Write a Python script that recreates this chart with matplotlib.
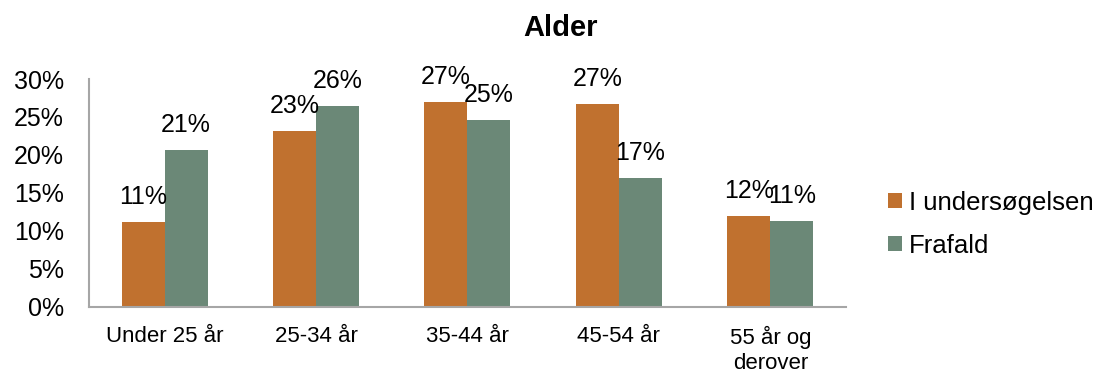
import matplotlib.pyplot as plt
import numpy as np

plt.rcParams['font.family'] = ['Liberation Sans', 'DejaVu Sans']

categories = ['Under 25 år', '25-34 år', '35-44 år', '45-54 år', '55 år og\nderover']
undersoegelsen = [11.2, 23.2, 27.0, 26.7, 12.0]
frafald = [20.7, 26.4, 24.6, 17.0, 11.3]
series_names = ['I undersøgelsen', 'Frafald']
colors = ['#C0712F', '#6B8877']

fig = plt.figure(figsize=(11.01, 3.78), dpi=100)
ax = fig.add_axes([0.0808, 0.1886, 0.6876, 0.6024])

x = np.arange(len(categories))
w = 0.284
b1 = ax.bar(x - w/2, undersoegelsen, w, color=colors[0], label=series_names[0])
b2 = ax.bar(x + w/2, frafald, w, color=colors[1], label=series_names[1])

for bars, vals in [(b1, undersoegelsen), (b2, frafald)]:
    for r, v in zip(bars, vals):
        ax.annotate('%d%%' % round(v), (r.get_x() + r.get_width()/2, v),
                    xytext=(0, 13), textcoords='offset points',
                    ha='center', va='baseline', fontsize=18)

ax.set_xlim(-0.5, len(categories) - 0.5)
ax.set_ylim(0, 30)
ax.set_yticks(range(0, 31, 5))
ax.set_yticklabels(['%d%%' % t for t in range(0, 31, 5)], fontsize=18)
ax.set_xticks(x)
ax.set_xticklabels(categories, fontsize=16, linespacing=1.25)
ax.tick_params(axis='both', length=0)
ax.tick_params(axis='y', pad=18)
ax.tick_params(axis='x', pad=14)
for s in ['top', 'right']:
    ax.spines[s].set_visible(False)
for s in ['left', 'bottom']:
    ax.spines[s].set_color('#A6A6A6')
    ax.spines[s].set_linewidth(1.5)

fig.text(0.5095, 0.926, 'Alder', ha='center', va='center', fontsize=21, fontweight='bold')

fig.legend(loc='center left', bbox_to_anchor=(0.8065, 0.407), frameon=False,
           fontsize=18.5, handlelength=0.55, handleheight=0.55, handletextpad=0.25,
           labelspacing=0.75, borderpad=0, borderaxespad=0)

plt.savefig('out.png')
